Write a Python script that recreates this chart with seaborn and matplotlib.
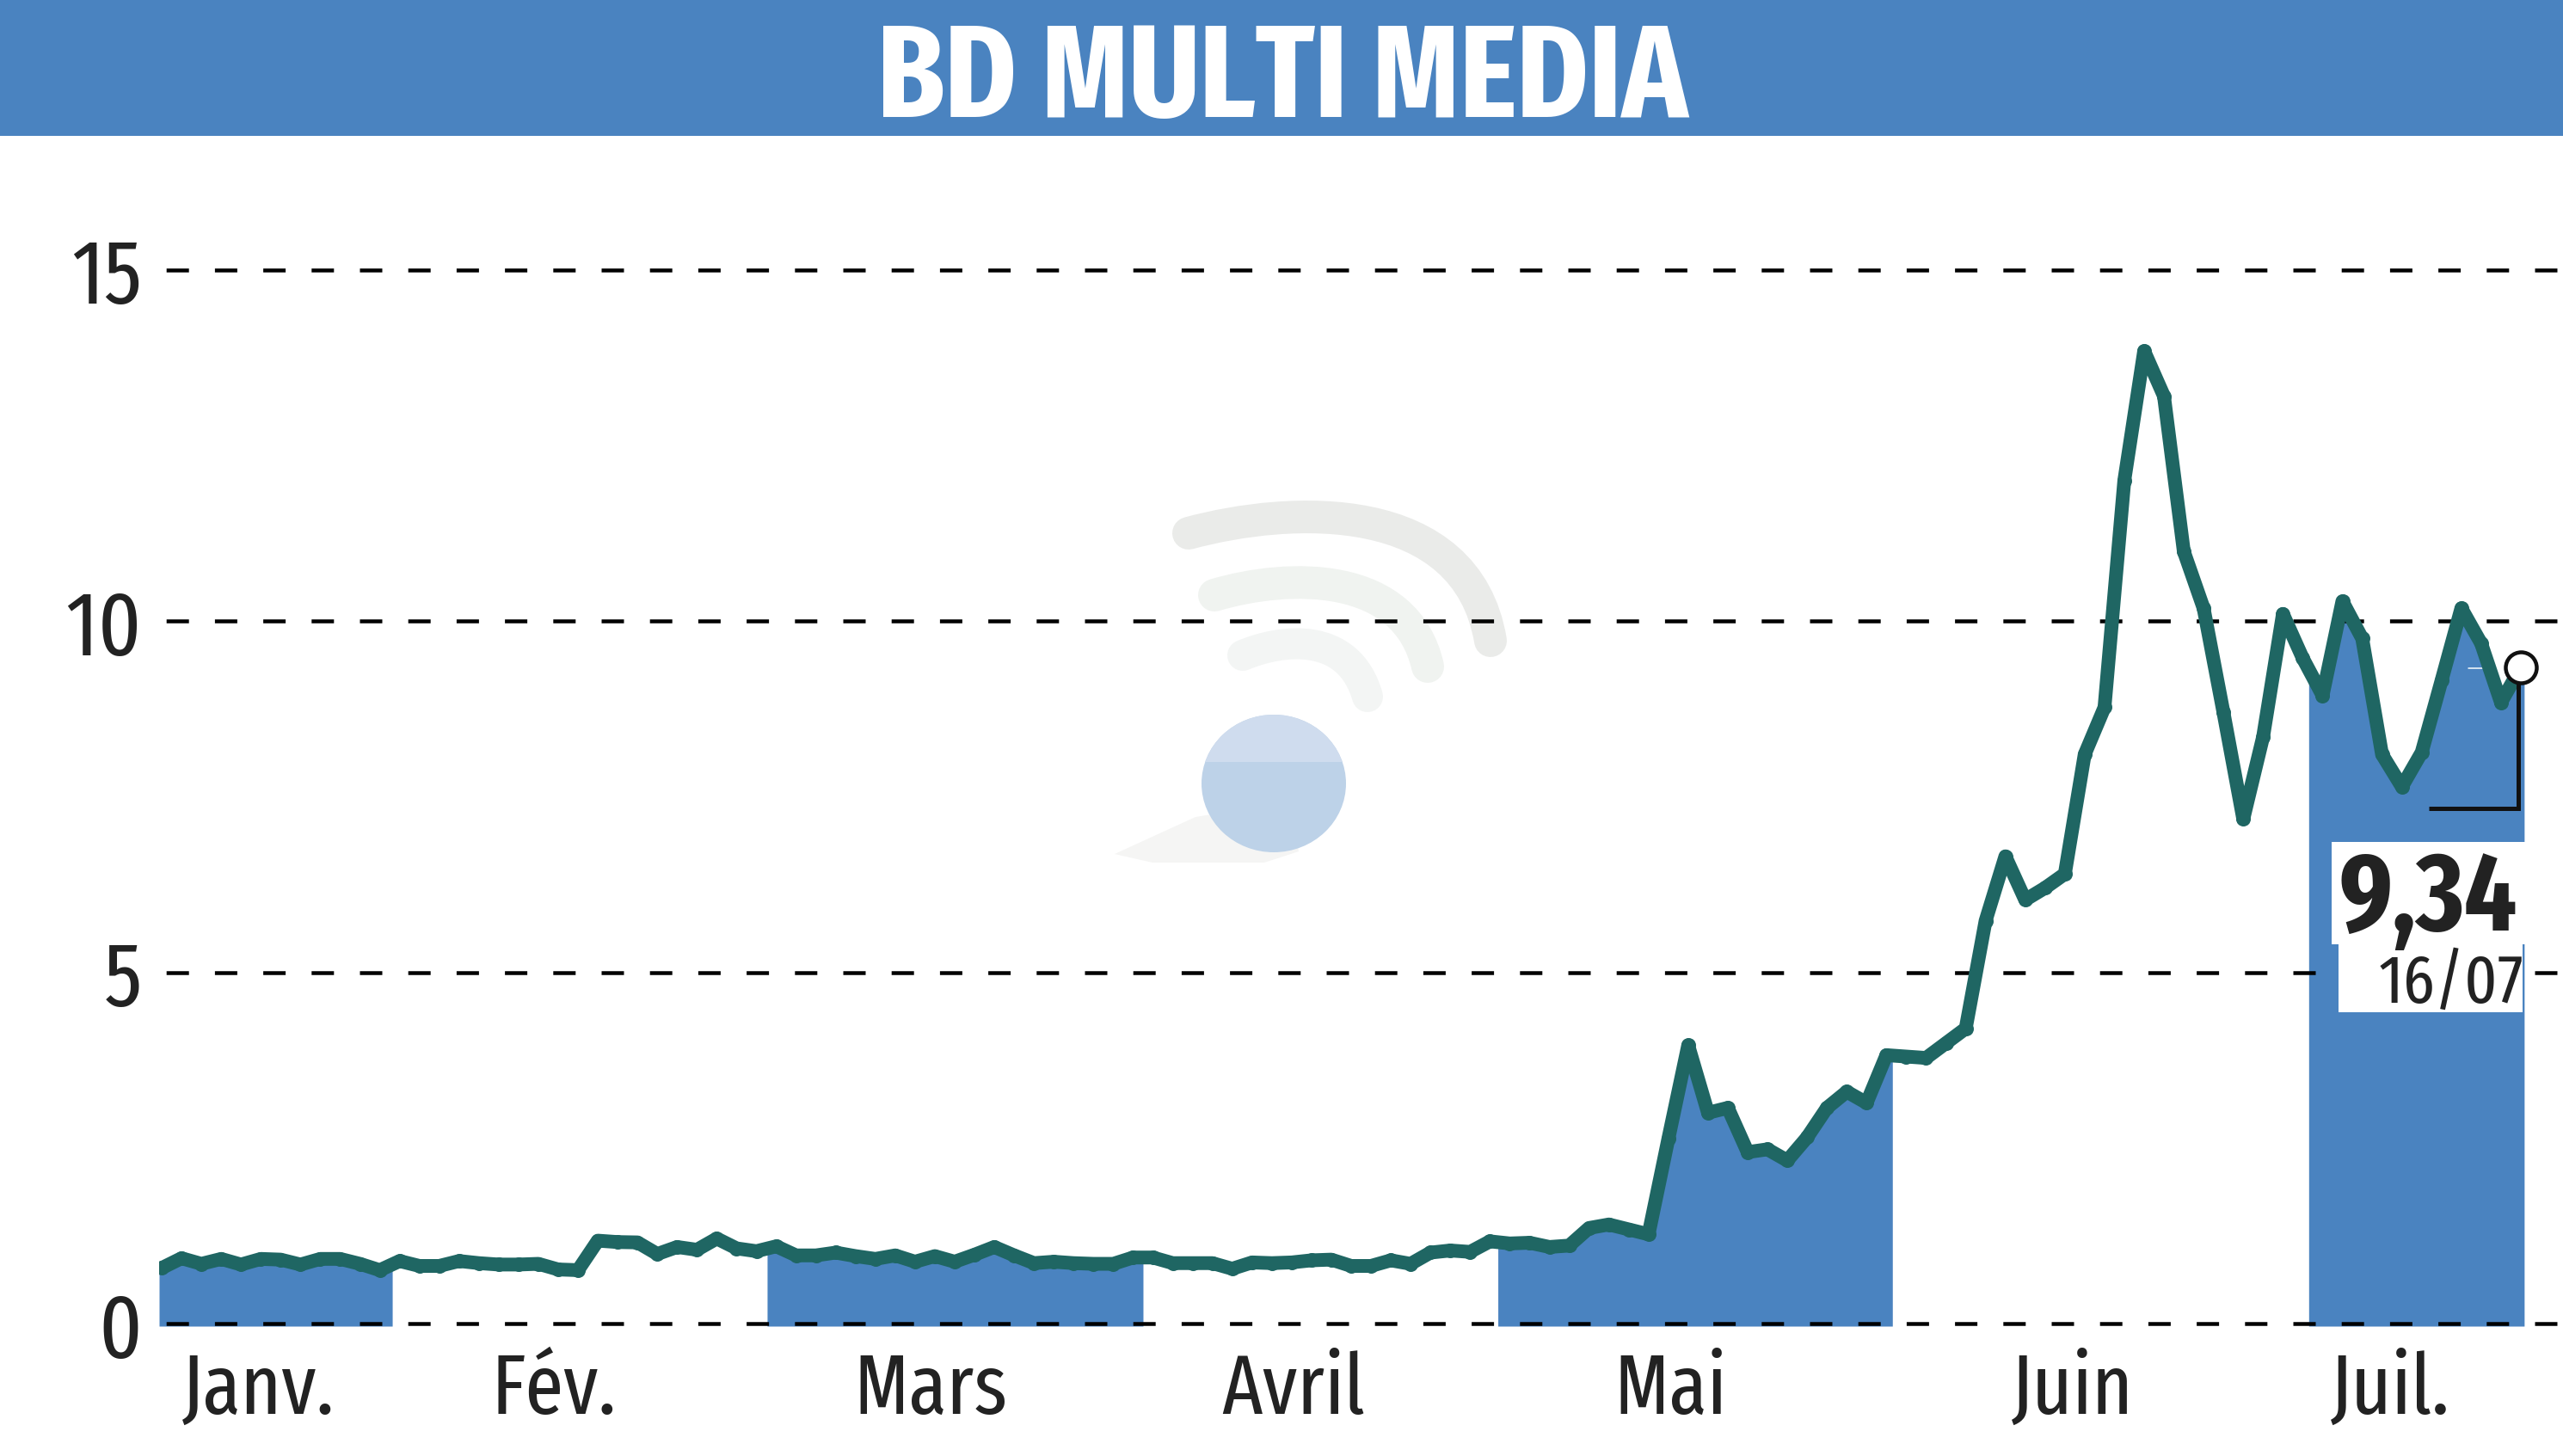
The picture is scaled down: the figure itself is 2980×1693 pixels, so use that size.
import numpy as np
import pandas as pd
import matplotlib
matplotlib.use("Agg")
import matplotlib.pyplot as plt
import seaborn as sns
from matplotlib.patches import Rectangle, Ellipse, PathPatch, Polygon
from matplotlib.path import Path
from matplotlib.transforms import Affine2D

title = "BD MULTI MEDIA"
month_names = ["Janv.", "Fév.", "Mars", "Avril", "Mai", "Juin", "Juil."]
month_label_sessions = [4.9, 19.8, 38.8, 57.1, 76.1, 96.4, 112.4]
month_edges = [11.63, 30.54, 49.5, 67.4, 87.3, 108.3]
y_ticks = [0, 5, 10, 15]
last_value_label = "9,34"
last_date_label = "16/07"

janv = [0.79, 0.93, 0.85, 0.92, 0.84, 0.92, 0.91, 0.84, 0.92, 0.92, 0.85, 0.76]
fev = [0.89, 0.82, 0.82, 0.89, 0.86, 0.84, 0.84, 0.85, 0.77, 0.76, 1.18, 1.16,
       1.155, 0.99, 1.09, 1.05, 1.21, 1.07, 1.03]
mars = [1.10, 0.97, 0.97, 1.01, 0.96, 0.92, 0.97, 0.88, 0.96, 0.88, 0.98, 1.09,
        0.97, 0.86, 0.88, 0.86, 0.85, 0.85, 0.94]
avril = [0.94, 0.86, 0.86, 0.86, 0.78, 0.87, 0.86, 0.87, 0.90, 0.91, 0.82, 0.82,
         0.90, 0.85, 1.01, 1.04, 1.02, 1.17]
mai = [1.14, 1.15, 1.09, 1.11, 1.36, 1.41, 1.34, 1.27, 2.63, 3.96, 3.00, 3.07,
       2.44, 2.48, 2.32, 2.65, 3.07, 3.30, 3.14, 3.82]
juin = [3.80, 3.78, 3.99, 4.20, 5.73, 6.65, 6.03, 6.20, 6.40, 8.10, 8.77, 12.0,
        13.84, 13.2, 10.99, 10.18, 8.70, 7.18, 8.35, 10.1, 9.47]
juil = [8.94, 10.28, 9.75, 8.10, 7.64, 8.13, 9.15, 10.18, 9.68, 8.84, 9.34]

months = [janv, fev, mars, avril, mai, juin, juil]
values = np.array(sum(months, []))
sessions = np.arange(len(values))
df = pd.DataFrame({"session": sessions, "cours": values})

BLUE = "#4a83c0"
TEAL = "#1f6663"
W, H = 2980, 1693

sns.set_theme(style="white", rc={"lines.scale_dashes": False})
plt.rcParams["font.family"] = ["Fira Sans Extra Condensed", "Liberation Sans"]
plt.rcParams["text.color"] = "#222222"


def px(v):
    return v * 0.72  # pixels -> points at dpi 100


fig = plt.figure(figsize=(W / 100, H / 100), dpi=100, facecolor="white")
fig.patches.append(Rectangle((0, 1 - 157.5 / H), 1, 157.5 / H, transform=fig.transFigure,
                             facecolor=BLUE, edgecolor="none"))
left, bottom_px, top_px = 185, 1542, 157.5
ax = fig.add_axes([left / W, 1 - bottom_px / H, 1 - left / W, (bottom_px - top_px) / H])
pix = Affine2D().scale(1 / W, -1 / H).translate(0, 1) + fig.transFigure

# scales: session 0 at x=188 px, one session = 23.05 px; value 0 at y=1539 px, one unit = 81.7 px
ax.set_xlim((left - 188) / 23.05, (W - 188) / 23.05)
ax.set_ylim((1539 - bottom_px) / 81.7, (1539 - top_px) / 81.7)

# watermark
def arc(p0, p1, p2, p3, color, lw):
    path = Path([p0, p1, p2, p3], [Path.MOVETO, Path.CURVE4, Path.CURVE4, Path.CURVE4])
    ax.add_patch(PathPatch(path, transform=pix, facecolor="none", edgecolor=color, lw=px(lw),
                           capstyle="round", zorder=0.05))

arc((1382, 620), (1500, 588), (1705, 578), (1733, 745), "#eaebe9", 38)
arc((1412, 692), (1500, 666), (1635, 664), (1660, 775), "#f0f3f0", 38)
arc((1445, 762), (1490, 743), (1568, 733), (1590, 810), "#f3f5f4", 36)
ax.add_patch(Polygon([(1296, 993), (1390, 950), (1420, 945), (1500, 945), (1510, 990),
                      (1470, 1003), (1340, 1003)], transform=pix, facecolor="#f5f5f4",
                     edgecolor="none", zorder=0.06))
ball = Ellipse((1481, 911), 168, 160, transform=pix, facecolor="#bdd2e8", edgecolor="none", zorder=0.07)
ax.add_patch(ball)
cap = Rectangle((1390, 820), 190, 66, transform=pix, facecolor="#cfdcee", edgecolor="none", zorder=0.08)
ax.add_patch(cap)
cap.set_clip_path(ball)

# alternating month bands
edges = [ax.get_xlim()[0]] + month_edges + [len(values) - 1 + 0.17]
for k in range(0, len(months), 2):
    a, b = edges[k], edges[k + 1]
    xs = np.concatenate([[a], sessions[(sessions > a) & (sessions < b)], [b]])
    ax.fill_between(xs, ax.get_ylim()[0], np.interp(xs, sessions, values),
                    color=BLUE, lw=0, zorder=0.2)

# grid
ax.set_yticks(y_ticks)
ax.set_xticks(month_label_sessions)
ax.set_xticklabels(month_names)
ax.set_axisbelow(True)
ax.grid(False)
ax.grid(axis="y", color="black", lw=px(4.5), linestyle=(px(48), (px(26), px(30.2))), dash_capstyle="butt")
ax.tick_params(axis="y", length=0, pad=px(20), labelsize=px(105), colors="#222222")
ax.tick_params(axis="x", length=0, pad=px(28), labelsize=px(98), colors="#222222")
for s in ax.spines.values():
    s.set_visible(False)

# price line
sns.lineplot(data=df, x="session", y="cours", ax=ax, color=TEAL, lw=px(16), marker="o",
             markersize=px(17), markeredgewidth=0, solid_joinstyle="round", solid_capstyle="butt",
             errorbar=None, zorder=3, legend=False)
ax.set_xlabel("")
ax.set_ylabel("")

# last-value callout
ax.add_patch(Rectangle((2711, 979), 225, 119, transform=pix, facecolor="white", edgecolor="none", zorder=2.5))
ax.add_patch(Rectangle((2718.5, 1098), 214.5, 79, transform=pix, facecolor="white", edgecolor="none", zorder=2.5))
ax.plot([2870, 2903], [776.5, 776.5], transform=pix, color="white", lw=px(1.5), zorder=2.6)
ax.plot([2824, 2928, 2928], [940, 940, 795], transform=pix, color="#111111", lw=px(5),
        solid_joinstyle="miter", solid_capstyle="butt", zorder=4)
ax.plot(sessions[-1:], values[-1:], marker="o", ms=px(36), mfc="white", mec="#111111", mew=px(4.5),
        ls="none", zorder=5, clip_on=False)
ax.text(2927, 1082, last_value_label, transform=pix, ha="right", va="baseline",
        fontsize=px(129), fontweight="bold", zorder=6)
ax.text(2934, 1166, last_date_label, transform=pix, ha="right", va="baseline",
        fontsize=px(80), zorder=6)

fig.text(1491 / W, 1 - 136 / H, title, ha="center", va="baseline", color="white",
         fontsize=px(153), fontweight="bold")

fig.savefig("out.png", dpi=100, facecolor="white")
